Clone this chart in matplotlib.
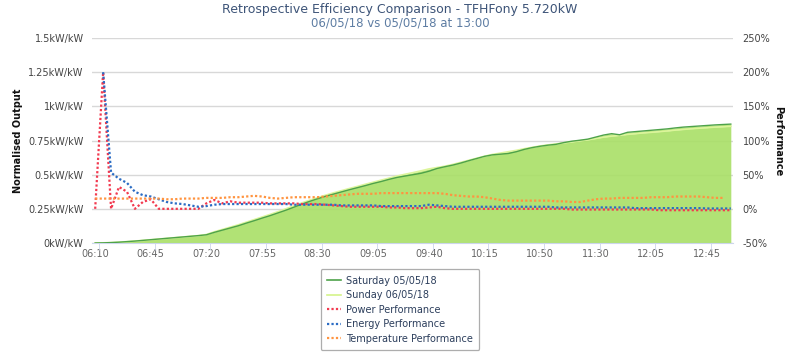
import numpy as np
import matplotlib
matplotlib.use('Agg')
import matplotlib.pyplot as plt
from matplotlib.lines import Line2D

# category axis (5 minute readings, two slots missing)
times = ('06:10 06:15 06:20 06:25 06:30 06:35 06:40 06:45 06:50 06:55 07:00 07:05 07:10 07:15 '
         '07:20 07:25 07:30 07:35 07:40 07:45 07:50 07:55 08:00 08:05 08:10 08:15 08:20 08:25 '
         '08:30 08:35 08:40 08:45 08:50 08:55 09:00 09:05 09:10 09:15 09:20 09:25 09:30 09:35 '
         '09:40 09:45 09:50 09:55 10:00 10:05 10:10 10:15 10:20 10:25 10:30 10:35 10:40 10:45 '
         '10:50 10:55 11:00 11:05 11:15 11:20 11:25 11:30 11:35 11:40 11:45 11:50 11:55 12:00 '
         '12:05 12:10 12:15 12:20 12:30 12:35 12:40 12:45 12:50 12:55 13:00').split()

# normalised output kW/kW
saturday = [0.000, 0.001, 0.003, 0.006, 0.010, 0.014, 0.019, 0.024, 0.029, 0.034,
            0.039, 0.044, 0.049, 0.054, 0.060, 0.078, 0.094, 0.110, 0.126, 0.145,
            0.163, 0.182, 0.200, 0.220, 0.240, 0.262, 0.284, 0.305, 0.324, 0.342,
            0.358, 0.374, 0.390, 0.405, 0.420, 0.436, 0.450, 0.466, 0.480, 0.490,
            0.500, 0.510, 0.525, 0.545, 0.558, 0.570, 0.585, 0.602, 0.618, 0.634,
            0.645, 0.650, 0.655, 0.668, 0.685, 0.698, 0.708, 0.716, 0.722, 0.735,
            0.745, 0.752, 0.760, 0.775, 0.790, 0.800, 0.792, 0.810, 0.815, 0.820,
            0.825, 0.830, 0.835, 0.842, 0.848, 0.852, 0.856, 0.860, 0.864, 0.867,
            0.870]
sunday = [0.000, 0.001, 0.003, 0.006, 0.010, 0.014, 0.019, 0.024, 0.029, 0.034,
          0.039, 0.044, 0.049, 0.054, 0.062, 0.082, 0.099, 0.116, 0.133, 0.152,
          0.171, 0.190, 0.209, 0.229, 0.250, 0.272, 0.293, 0.313, 0.332, 0.350,
          0.367, 0.383, 0.399, 0.414, 0.430, 0.445, 0.460, 0.475, 0.490, 0.503,
          0.515, 0.528, 0.542, 0.552, 0.562, 0.575, 0.590, 0.605, 0.620, 0.635,
          0.648, 0.658, 0.668, 0.678, 0.690, 0.700, 0.710, 0.718, 0.725, 0.733,
          0.740, 0.748, 0.755, 0.765, 0.775, 0.782, 0.788, 0.795, 0.800, 0.806,
          0.810, 0.815, 0.820, 0.826, 0.831, 0.836, 0.840, 0.844, 0.848, 0.851,
          0.854]

# performance %
power_perf = [0, 200, 0, 32, 25, 0, 10, 14, 0, 0,
              0, 0, 0, 0, 8, 13, 8, 11, 9, 9,
              9, 9, 8, 8, 8, 8, 7, 7, 7, 6,
              5, 4, 3, 3, 3, 3, 3, 2, 2, 1,
              1, 1, 2, 3, 1, 0, 0, 0, 0, 0,
              0, 0, 0, 0, 0, 0, 0, 0, 0, 0,
              -1, -1, -1, -1, -1, -1, -1, -1, -1, -1,
              -1, -2, -2, -2, -2, -2, -2, -2, -2, -2,
              -2]
energy_perf = [np.nan, 200, 53, 44, 38, 25, 20, 18, 14, 10,
               8, 7, 5, 3, 4, 6, 7, 7, 7, 7,
               7, 7, 7, 7, 7, 6, 6, 6, 6, 6,
               6, 5, 5, 5, 5, 5, 4, 4, 4, 4,
               4, 4, 6, 5, 4, 3, 3, 3, 3, 3,
               3, 3, 3, 3, 3, 3, 3, 3, 2, 2,
               2, 2, 2, 2, 2, 2, 2, 2, 1, 1,
               1, 1, 1, 1, 1, 1, 1, 0.5, 0.5, 0.5,
               0.5]
temp_perf = [15, 15, 15, 15, 15, 15, 15, 15, 15, 14,
             14, 15, 15, 15, 16, 16, 16, 17, 17, 18,
             19, 18, 16, 15, 16, 17, 17, 17, 17, 18,
             19, 20, 21, 22, 22, 22, 23, 23, 23, 23,
             23, 23, 23, 23, 22, 20, 19, 18, 18, 17,
             15, 13, 12, 12, 12, 12, 12, 12, 11, 11,
             10, 10, 12, 14, 15, 15, 16, 16, 16, 16,
             17, 17, 17, 18, 18, 18, 18, 17, 16, 16,
             np.nan]

left_ticks = [0, 0.25, 0.5, 0.75, 1, 1.25, 1.5]
left_labels = ['0kW/kW', '0.25kW/kW', '0.5kW/kW', '0.75kW/kW', '1kW/kW', '1.25kW/kW', '1.5kW/kW']
right_ticks = [-50, 0, 50, 100, 150, 200, 250]

fig = plt.figure(figsize=(8, 3.54), dpi=100)
ax = fig.add_axes([0.115, 0.3136, 0.801, 0.579])
x = np.arange(len(times))

txt = '#444444'
fill_c = '#a9df66'

# areas
ax.fill_between(x, 0, sunday, color=fill_c, alpha=0.9, lw=0, zorder=2)
ax.fill_between(x, sunday, saturday, where=np.array(saturday) > np.array(sunday),
                color=fill_c, alpha=0.9, lw=0, zorder=2, interpolate=True)
ax.plot(x, sunday, color='#dcf59a', lw=1.2, zorder=3)
ax.plot(x, saturday, color='#4ea24a', lw=1.0, zorder=3)

ax.set_xlim(-0.4, 80.25)
ax.set_ylim(0, 1.5)
ax.set_yticks(left_ticks)
ax.set_yticklabels(left_labels)
ax.yaxis.grid(True, color='#d8d8d8', lw=1)
ax.set_axisbelow(True)
ax.set_xticks(x[::7])
ax.set_xticklabels(times[::7])
ax.set_xticks(x[::7] + 0.5, minor=True)
ax.tick_params(axis='x', which='major', length=0, pad=4, labelsize=7, labelcolor='#666666')
ax.tick_params(axis='x', which='minor', length=5, color='#ccd6eb')
ax.tick_params(axis='y', length=0, pad=6, labelsize=7, labelcolor=txt)
for s in ['top', 'left', 'right']:
    ax.spines[s].set_visible(False)
ax.spines['bottom'].set_color('#ccd6eb')

# performance on right axis
ax2 = ax.twinx()
dot = (0, (1, 1))
ax2.plot(x, power_perf, color='#f23a50', lw=1.6, ls=dot, dash_capstyle='butt')
ax2.plot(x, energy_perf, color='#2b6cc4', lw=1.6, ls=dot, dash_capstyle='butt')
ax2.plot(x, temp_perf, color='#ff9440', lw=1.6, ls=dot, dash_capstyle='butt')
ax2.set_ylim(-50, 250)
ax2.set_yticks(right_ticks)
ax2.set_yticklabels([f'{v}%' for v in right_ticks])
ax2.tick_params(axis='y', length=0, pad=7, labelsize=7, labelcolor=txt)
for s in ax2.spines.values():
    s.set_visible(False)

fig.text(0.5, 1 - 10 / 354, 'Retrospective Efficiency Comparison - TFHFony 5.720kW',
         ha='center', va='center', fontsize=9, color='#3d5478')
fig.text(0.5, 1 - 23 / 354, '06/05/18 vs 05/05/18 at 13:00',
         ha='center', va='center', fontsize=8.5, color='#5e7da3')
fig.text(18 / 800, 1 - 141 / 354, 'Normalised Output', rotation=90, ha='center', va='center',
         fontsize=7, fontweight='bold', color='#111111')
fig.text(778 / 800, 1 - 141 / 354, 'Performance', rotation=270, ha='center', va='center',
         fontsize=7, fontweight='bold', color='#111111')

handles = [Line2D([], [], color='#4ea24a', lw=1.2),
           Line2D([], [], color='#d4f38a', lw=1.2),
           Line2D([], [], color='#f23a50', lw=1.6, ls=dot),
           Line2D([], [], color='#2b6cc4', lw=1.6, ls=dot),
           Line2D([], [], color='#ff9440', lw=1.6, ls=dot)]
names = ['Saturday 05/05/18', 'Sunday 06/05/18', 'Power Performance',
         'Energy Performance', 'Temperature Performance']
leg = fig.legend(handles, names, loc='upper center', bbox_to_anchor=(0.5, 1 - 264 / 354),
                 fontsize=7, frameon=True, fancybox=True, edgecolor='#999999',
                 handlelength=1.4, handletextpad=0.5, labelspacing=0.46, borderpad=0.7)
leg.get_frame().set_linewidth(0.9)
for t in leg.get_texts():
    t.set_color('#2c3e5c')

fig.savefig('out.png', dpi=100)
